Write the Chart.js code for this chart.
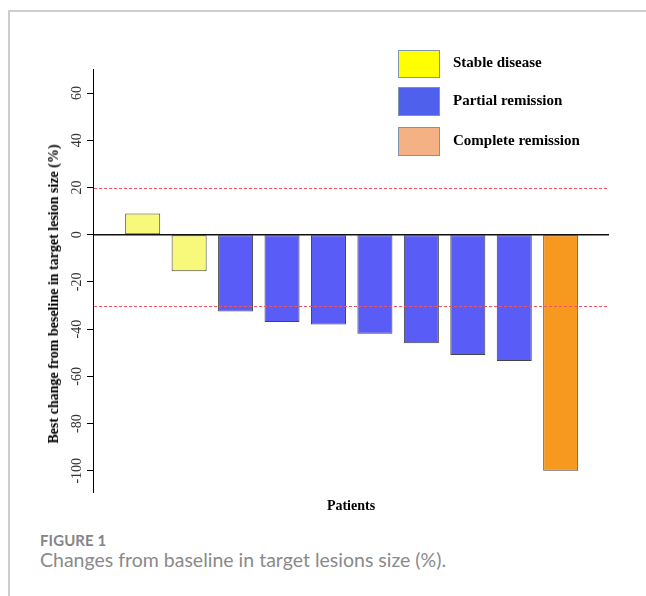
<!DOCTYPE html>
<html>
<head>
<meta charset="utf-8">
<script src="https://cdn.jsdelivr.net/npm/chart.js@4/dist/chart.umd.min.js"></script>
<style>
  html, body { margin: 0; padding: 0; background: #fff; }
  #fig { position: relative; width: 646px; height: 596px; overflow: hidden; background: #fff; }
  #frame { position: absolute; left: 8px; top: 10px; right: -4px; bottom: -4px;
           border-top: 2px solid #cdcdcd; border-left: 2px solid #cdcdcd; }
  #plot { position: absolute; left: 0; top: 0; width: 646px; height: 530px; }
  .key { position: absolute; left: 398px; width: 42px; box-sizing: border-box;
         border: 1.5px solid #7d93b0; }
  .keytxt { position: absolute; left: 453px; font: bold 15px "Liberation Serif", serif;
            line-height: 15px; color: #000; white-space: nowrap; }
  #ytitle { position: absolute; left: 54px; top: 294px; width: 0; height: 0; }
  #ytitle span { position: absolute; left: 0; top: 0; white-space: nowrap;
                 font: bold 14px "Liberation Serif", serif; line-height: 16px; color: #000;
                 transform-origin: 50% 50%; transform: translate(-50%, -50%) rotate(-90deg); }
  #fignum { position: absolute; left: 40px; top: 532.5px; font: bold 15px Lato, sans-serif;
            line-height: 15px; color: #858585; letter-spacing: 0.1px; }
  #figcap { position: absolute; left: 40px; top: 549.5px; font: 400 19.5px Lato, sans-serif;
            line-height: 19.5px; color: #8a8a8a; white-space: nowrap; }
</style>
</head>
<body>
<div id="fig">
  <div id="frame"></div>
  <div id="plot"><canvas id="chart" width="646" height="530"></canvas></div>
  <div id="legend"></div>
  <div id="ytitle"><span>Best change from beseline in target lesion size (%)</span></div>
  <div id="fignum">FIGURE 1</div>
  <div id="figcap">Changes from baseline in target lesions size (%).</div>
</div>
<script>
// Waterfall of best change per patient, ordered from largest growth to deepest shrinkage
const patients   = [1, 2, 3, 4, 5, 6, 7, 8, 9, 10];
const bestChange = [9, -15.5, -32.5, -37, -38, -42, -46, -51, -53.5, -100];
const response   = ['SD', 'SD', 'PR', 'PR', 'PR', 'PR', 'PR', 'PR', 'PR', 'CR'];
const yTicks     = [-100, -80, -60, -40, -20, 0, 20, 40, 60];
const thresholds = [20, -30];   // progression / partial-response cut-offs

const responseNames = { SD: 'Stable disease', PR: 'Partial remission', CR: 'Complete remission' };
const barColors     = { SD: '#f8f87a', PR: '#5a5cf7', CR: '#f7981f' };
const keyColors     = { SD: '#ffff00', PR: '#4f60ec', CR: '#f4b183' };

// Legend boxes and labels
const legendRows = [
  { code: 'SD', boxTop: 50,  boxH: 28, textTop: 54.5 },
  { code: 'PR', boxTop: 87,  boxH: 29, textTop: 93 },
  { code: 'CR', boxTop: 127, boxH: 29, textTop: 132.5 }
];
const legendEl = document.getElementById('legend');
legendRows.forEach(r => {
  const box = document.createElement('div');
  box.className = 'key';
  box.style.top = r.boxTop + 'px';
  box.style.height = r.boxH + 'px';
  box.style.background = keyColors[r.code];
  legendEl.appendChild(box);
  const t = document.createElement('div');
  t.className = 'keytxt';
  t.style.top = r.textTop + 'px';
  t.textContent = responseNames[r.code];
  legendEl.appendChild(t);
});

// Zero line and dashed response thresholds, drawn over the bars
const referenceLines = {
  id: 'referenceLines',
  afterDatasetsDraw(chart) {
    const { ctx, chartArea: a, scales: { y } } = chart;
    ctx.save();
    ctx.strokeStyle = '#ee5560';
    ctx.lineWidth = 1;
    ctx.setLineDash([3, 2]);
    thresholds.forEach(v => {
      const py = Math.round(y.getPixelForValue(v)) + 0.5;
      ctx.beginPath();
      ctx.moveTo(a.left + 1, py);
      ctx.lineTo(a.right - 2, py);
      ctx.stroke();
    });
    ctx.setLineDash([]);
    ctx.strokeStyle = '#111';
    ctx.lineWidth = 1.5;
    const zy = y.getPixelForValue(0);
    ctx.beginPath();
    ctx.moveTo(a.left, zy);
    ctx.lineTo(a.right, zy);
    ctx.stroke();
    ctx.restore();
  }
};

// Y tick labels written upward (bottom-to-top), centred on each tick
const uprightTickLabels = {
  id: 'uprightTickLabels',
  afterDraw(chart) {
    const { ctx, chartArea: a, scales: { y } } = chart;
    ctx.save();
    ctx.fillStyle = '#333';
    ctx.font = '14px "Liberation Serif", serif';
    ctx.textAlign = 'center';
    ctx.textBaseline = 'middle';
    y.ticks.forEach(t => {
      ctx.save();
      ctx.translate(a.left - 15.5, y.getPixelForValue(t.value));
      ctx.rotate(-Math.PI / 2);
      ctx.fillText(String(t.value), 0, 0);
      ctx.restore();
    });
    ctx.restore();
  }
};

new Chart(document.getElementById('chart'), {
  type: 'bar',
  data: {
    datasets: [{
      data: patients.map((p, i) => ({ x: p, y: bestChange[i] })),
      backgroundColor: response.map(r => barColors[r]),
      borderColor: '#444',
      borderWidth: 1,
      borderSkipped: false,
      categoryPercentage: 1,
      barPercentage: 0.754
    }]
  },
  options: {
    responsive: false,
    animation: false,
    events: [],
    layout: { padding: { top: 69.5, right: 37, bottom: 0, left: 0 } },
    plugins: { legend: { display: false }, tooltip: { enabled: false } },
    scales: {
      x: {
        type: 'linear',
        min: -0.07,
        max: 11.04,
        offset: false,
        ticks: { display: false, stepSize: 1 },
        grid: { display: false },
        border: { display: false },
        title: {
          display: true,
          text: 'Patients',
          color: '#000',
          font: { family: '"Liberation Serif", serif', size: 14, weight: 'bold' },
          padding: { top: 0, bottom: 15 }
        },
        afterFit: s => { s.height = 38; }
      },
      y: {
        min: -109,
        max: 70,
        afterBuildTicks: s => { s.ticks = yTicks.map(v => ({ value: v })); },
        afterFit: s => { s.width = 93; },
        ticks: { display: false },
        grid: { drawOnChartArea: false, drawTicks: true, tickLength: 6, color: '#000', lineWidth: 1 },
        border: { display: true, color: '#000', width: 1 }
      }
    }
  },
  plugins: [referenceLines, uprightTickLabels]
});
</script>
</body>
</html>
